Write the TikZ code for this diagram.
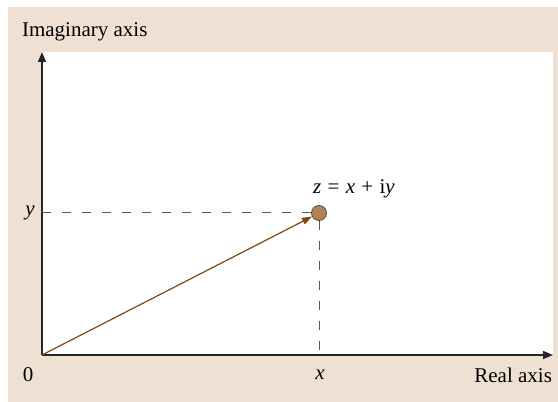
\documentclass[tikz,border=0pt]{standalone}
\usepackage{fontspec}
\setmainfont{Liberation Serif}
\usepackage{xcolor}
\definecolor{panelbeige}{RGB}{238, 225, 212}
\definecolor{vecbrown}{RGB}{128, 72, 12}
\definecolor{dotbrown}{RGB}{178, 130, 84}
\usetikzlibrary{arrows.meta}

\begin{document}
\begin{tikzpicture}[x=0.5pt, y=0.5pt, font=\fontsize{10.5}{12}\selectfont,
  axis/.style={line width=0.75pt, black!85, -{Triangle[length=5pt, width=4pt]}},
  guide/.style={line width=0.5pt, gray!70!black, dash pattern=on 4.5pt off 5.5pt}]
  \useasboundingbox (0,0) rectangle (558,402);

  % Panels
  \fill[panelbeige] (8,0) rectangle (558,395);
  \fill[white] (42,47) rectangle (553,350);

  % Axes
  \coordinate (O) at (42,47);
  \coordinate (re) at (553,47);
  \coordinate (im) at (42,350);
  \draw[axis] (O) -- (re);
  \draw[axis] (O) -- (im);

  % Point z
  \node[circle, draw=black!70, fill=dotbrown, line width=0.4pt, minimum size=7.5pt, inner sep=0pt] (z) at (319,189) {};
  \coordinate (zx) at (319,47);
  \coordinate (zy) at (42,189);
  \draw[guide] (zy) -- (z.west);
  \draw[guide] (z.south) -- (zx);
  \draw[line width=0.6pt, vecbrown, -{Triangle[length=5pt, width=3.5pt]}] (O) -- (z);

  % Labels
  \node[anchor=west] (imlabel) at (15,370) {Imaginary axis};
  \node[anchor=east] (relabel) at (559,27) {Real axis};
  \node (zero) at (28,27) {0};
  \node (xlabel) at (320,27) {\textit{x}};
  \node (ylabel) at (30,189) {\textit{y}};
  \node (zlabel) at (354,213) {\textit{z}\hspace{0.3em}=\hspace{0.3em}\textit{x}\hspace{0.3em}+\hspace{0.3em}i\textit{y}};
\end{tikzpicture}
\end{document}
